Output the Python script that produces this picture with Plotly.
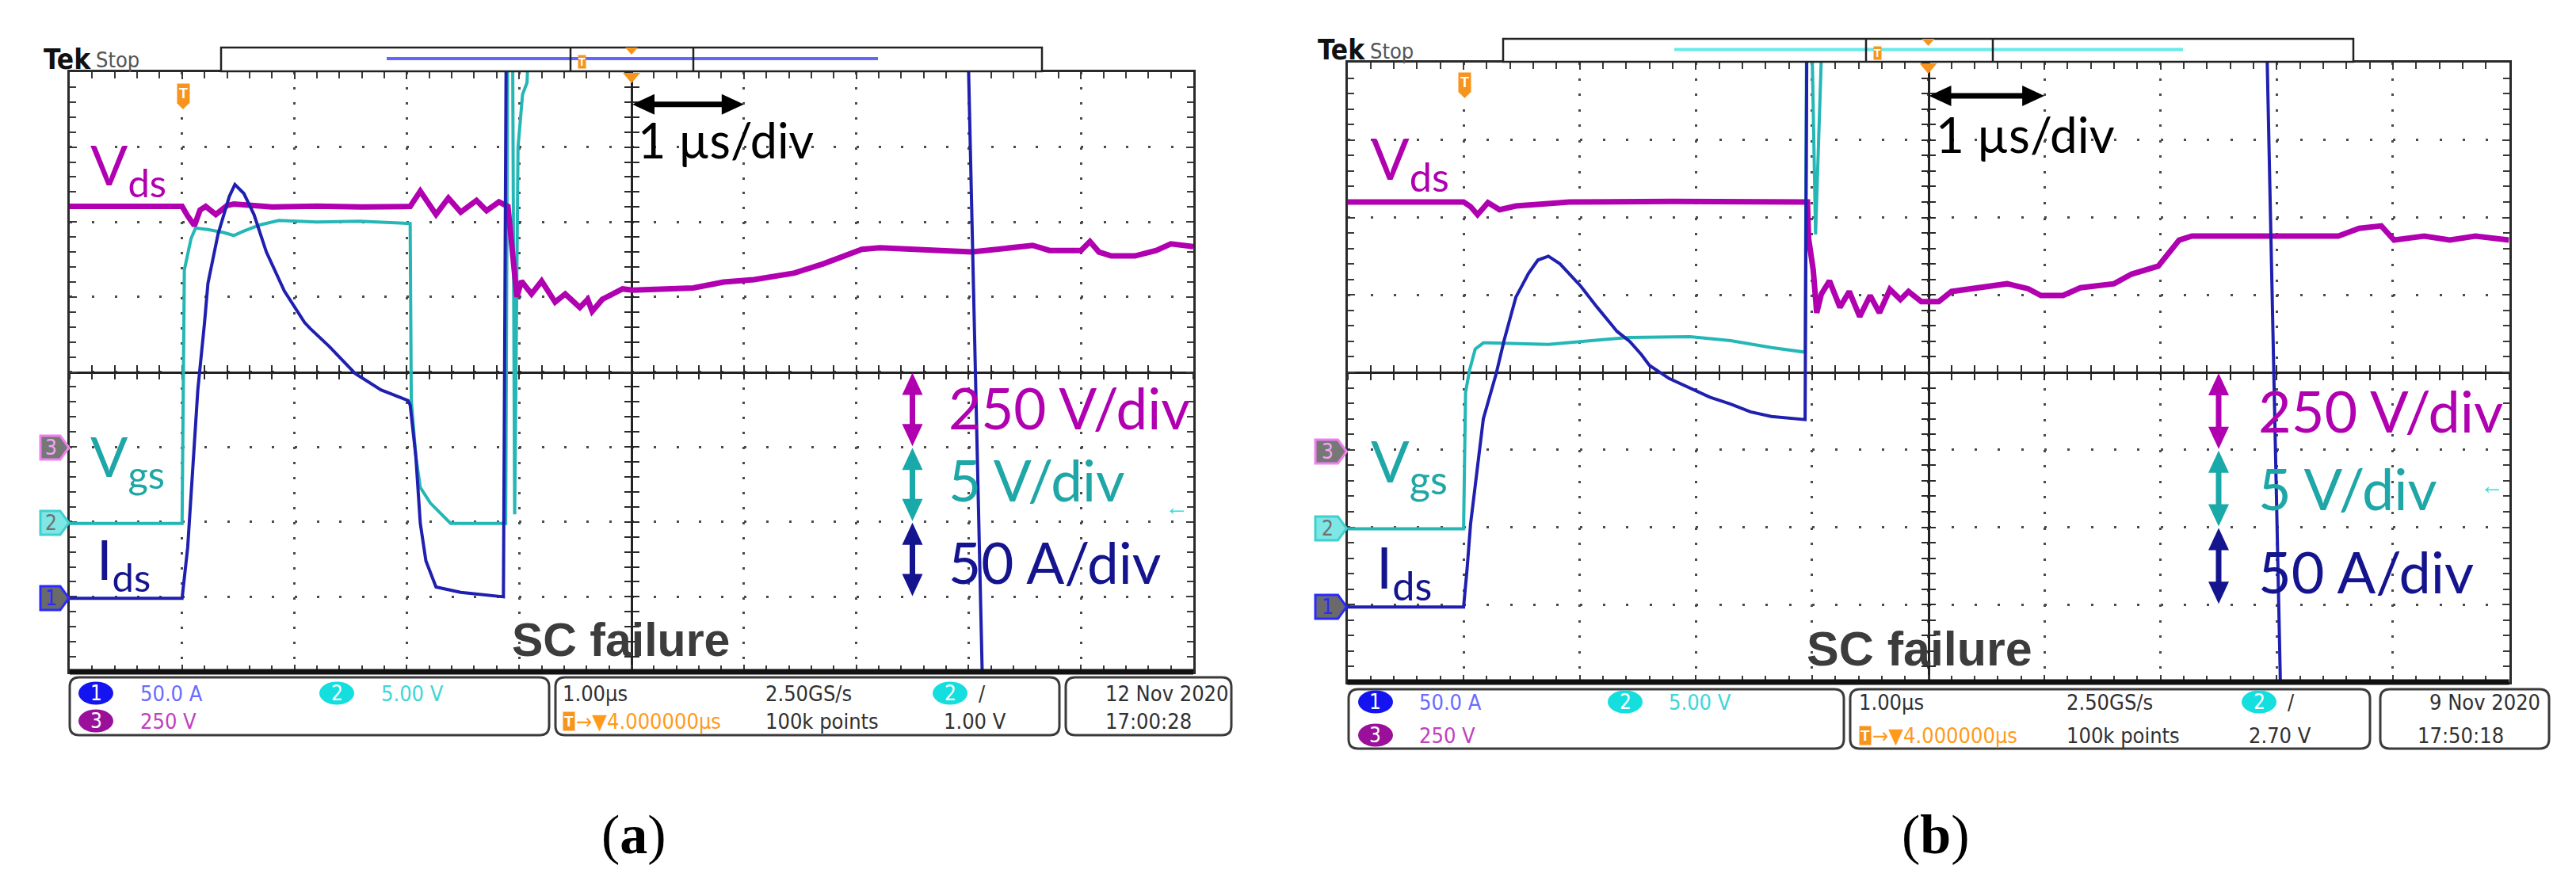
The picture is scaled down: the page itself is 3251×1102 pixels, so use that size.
import plotly.graph_objects as go

W, H = 3251, 1102

# ------------------------------------------------------------------
# Values
# time in µs relative to the trigger (trigger sits 1 div from the left edge)
# ------------------------------------------------------------------
T_RANGE = [-1, 9]
VDS_DIV, VGS_DIV, IDS_DIV = 250, 5, 50          # V/div, V/div, A/div
VDS_REF, VGS_REF, IDS_REF = -1, -2, -3           # ground markers (div below centre)

# ---- (a) 12 Nov 2020 ----
a_vds_t = [-1.0, -0.5, 0.0, 0.05, 0.11, 0.16, 0.21, 0.30, 0.40, 0.46, 0.80, 1.20, 1.60, 2.03,
           2.12, 2.26, 2.37, 2.48, 2.62, 2.71, 2.82, 2.90, 2.93, 2.98, 3.02, 3.11, 3.20, 3.32,
           3.41, 3.54, 3.61, 3.65, 3.74, 3.92, 4.01, 4.28, 4.55, 4.82, 5.09, 5.45, 5.71, 6.05,
           6.21, 6.75, 7.03, 7.57, 7.72, 8.00, 8.08, 8.16, 8.27, 8.48, 8.67, 8.80, 9.00]
a_vds_v = [802, 800, 802, 770, 738, 790, 802, 775, 805, 810, 800, 803, 800, 802,
           853, 775, 830, 783, 822, 788, 817, 802, 677, 500, 553, 510, 553, 483,
           510, 465, 492, 452, 492, 527, 523, 527, 530, 550, 558, 580, 611, 659,
           664, 655, 650, 672, 655, 655, 685, 650, 637, 637, 655, 677, 668]

a_vgs_t = [-1.0, 0.0, 0.02, 0.08, 0.12, 0.23, 0.37, 0.46, 0.55, 0.69, 0.86, 1.20, 1.58, 2.01,
           2.03, 2.04, 2.08, 2.12, 2.21, 2.35, 2.39, 2.88, 2.90, 2.94, 2.96, 2.99, 3.03, 3.07,
           3.10, 9.0]
a_vgs_v = [-0.1, -0.1, 16.8, 18.9, 19.6, 19.5, 19.3, 19.1, 19.4, 19.8, 20.1, 20.0, 20.05, 19.9,
           19.9, 8.1, 4.4, 2.3, 1.25, 0.2, -0.1, -0.1, 35, 35, 0.5, 25, 28.5, 29.3,
           35, 35]

a_ids_t = [-1.0, 0.0, 0.05, 0.10, 0.14, 0.20, 0.23, 0.32, 0.42, 0.47, 0.55, 0.64, 0.75, 0.91,
           1.09, 1.14, 1.31, 1.54, 1.77, 2.01, 2.03, 2.08, 2.12, 2.17, 2.26, 2.48, 2.86, 2.89,
           6.97, 7.13, 9.0]
a_ids_v = [-1, -1, 33, 94, 138, 183, 209, 242, 267, 275, 269, 255, 230, 204,
           183, 179, 167, 149, 138, 131, 128, 94, 49, 24, 6.5, 3, 0, 450,
           450, -80, -80]

# ---- (b) 9 Nov 2020 ----
b_vds_t = [-1.0, 0.0, 0.06, 0.12, 0.21, 0.31, 0.45, 0.59, 0.91, 1.80, 2.96, 2.97, 3.01, 3.04,
           3.08, 3.15, 3.24, 3.32, 3.41, 3.50, 3.58, 3.67, 3.76, 3.83, 3.94, 4.09, 4.20, 4.68,
           4.86, 4.97, 5.16, 5.31, 5.60, 5.75, 5.98, 6.16, 6.27, 6.97, 7.53, 7.71, 7.90, 8.01,
           8.27, 8.49, 8.71, 9.0]
b_vds_v = [800, 800, 785, 759, 798, 775, 787, 792, 800, 802, 800, 682, 580, 442,
           503, 545, 460, 511, 430, 498, 442, 518, 485, 511, 478, 478, 511, 536,
           520, 498, 498, 523, 536, 567, 593, 677, 690, 690, 690, 715, 723, 677,
           690, 677, 690, 677]

b_vgs_t = [-1.0, 0.0, 0.017, 0.05, 0.10, 0.17, 0.21, 0.73, 1.42, 1.95, 2.30, 2.65, 2.94, 2.955,
           2.99, 3.03, 3.10, 9.0]
b_vgs_v = [-0.1, -0.1, 8.7, 10.1, 11.5, 11.9, 11.9, 11.8, 12.25, 12.3, 12.05, 11.6, 11.3, 35,
           35, 18.9, 35, 35]

b_ids_t = [-1.0, 0.0, 0.03, 0.06, 0.17, 0.28, 0.35, 0.45, 0.56, 0.64, 0.73, 0.83, 1.01, 1.15,
           1.32, 1.43, 1.53, 1.60, 1.77, 1.95, 2.12, 2.30, 2.47, 2.65, 2.94, 2.96, 6.89, 7.04,
           9.0]
b_ids_v = [-1.5, -1.5, 23, 52, 120, 149, 171, 198.5, 214, 222.5, 225, 220, 205.5, 192,
           176.5, 170, 161.5, 154.5, 146, 140, 134, 129.5, 124.5, 121.5, 119.5, 450, 450, -80,
           -80]

# status-bar texts
a_status = dict(ch1='50.0 A', ch2='5.00 V', ch3='250 V', tb='1.00µs', pos='→▼4.000000µs',
                rate='2.50GS/s', rec='100k points', trig='1.00 V', date='12 Nov 2020', time='17:00:28')
b_status = dict(ch1='50.0 A', ch2='5.00 V', ch3='250 V', tb='1.00µs', pos='→▼4.000000µs',
                rate='2.50GS/s', rec='100k points', trig='2.70 V', date='9 Nov 2020', time='17:50:18')
# trigger levels on channel 2 (V)
a_trig_level, b_trig_level = 1.00, 2.70

# ------------------------------------------------------------------
C_VDS, C_VGS, C_IDS = '#b000b0', '#25b6b6', '#1f1fb0'
T_VDS, T_VGS, T_IDS = '#b000b0', '#1fa6a6', '#14148e'
ORANGE = '#f7941d'
LATO = 'Lato, "Open Sans", sans-serif'
NARROW = '"Liberation Sans Narrow", "DejaVu Sans Condensed", sans-serif'
ARIAL = '"Liberation Sans", Arial, sans-serif'
SERIF = '"Liberation Serif", "DejaVu Serif", serif'


def X(p):
    return p / W


def Y(p):
    return 1 - p / H


def rng(div, ref):
    return [(-4 - ref) * div, (4 - ref) * div]


def axkey(a):
    return ('xaxis' if a[0] == 'x' else 'yaxis') + a[1:]


layout = {}
shapes = []
annotations = []
fig = go.Figure()


def ann(x, y, text, size, color, family=LATO, xanchor='left', yanchor='top', **kw):
    d = dict(x=X(x), y=Y(y), xref='paper', yref='paper', text=text, showarrow=False,
             font=dict(size=size, color=color, family=family), xanchor=xanchor, yanchor=yanchor)
    d.update(kw)
    annotations.append(d)


def rrect(x0, y0, x1, y1, r, color='#3a3a3a', width=3, fill='white'):
    p = (f'M{X(x0 + r)},{Y(y0)} L{X(x1 - r)},{Y(y0)} Q{X(x1)},{Y(y0)} {X(x1)},{Y(y0 + r)} '
         f'L{X(x1)},{Y(y1 - r)} Q{X(x1)},{Y(y1)} {X(x1 - r)},{Y(y1)} L{X(x0 + r)},{Y(y1)} '
         f'Q{X(x0)},{Y(y1)} {X(x0)},{Y(y1 - r)} L{X(x0)},{Y(y0 + r)} Q{X(x0)},{Y(y0)} {X(x0 + r)},{Y(y0)} Z')
    shapes.append(dict(type='path', xref='paper', yref='paper', path=p,
                       line=dict(color=color, width=width), fillcolor=fill))


def poly(pts, fill, line=None, width=0):
    p = 'M' + ' L'.join(f'{X(a)},{Y(b)}' for a, b in pts) + ' Z'
    shapes.append(dict(type='path', xref='paper', yref='paper', path=p, fillcolor=fill,
                       line=dict(color=line or fill, width=width)))


def line(x0, y0, x1, y1, color, width):
    shapes.append(dict(type='line', xref='paper', yref='paper', x0=X(x0), y0=Y(y0), x1=X(x1), y1=Y(y1),
                       line=dict(color=color, width=width)))


def ellipse(cx, cy, w, h, color):
    shapes.append(dict(type='circle', xref='paper', yref='paper', x0=X(cx - w / 2), x1=X(cx + w / 2),
                       y0=Y(cy + h / 2), y1=Y(cy - h / 2), fillcolor=color, line=dict(color=color, width=0)))


def vdarrow(x, ya, yb, color, hw=13, hl=28, w=7):
    line(x, ya + hl - 2, x, yb - hl + 2, color, w)
    poly([(x - hw, ya + hl), (x + hw, ya + hl), (x, ya)], color)
    poly([(x - hw, yb - hl), (x + hw, yb - hl), (x, yb)], color)


def hdarrow(xa, xb, y, color, hw=13, hl=28, w=7):
    line(xa + hl - 2, y, xb - hl + 2, y, color, w)
    poly([(xa + hl, y - hw), (xa + hl, y + hw), (xa, y)], color)
    poly([(xb - hl, y - hw), (xb - hl, y + hw), (xb, y)], color)


def panel(geo, ids, data, lab):
    x0, y0, x1, y1 = geo
    xb, yb, xv, yv, xi, yi = ids
    divw = (x1 - x0) / 10.0
    divh = (y1 - y0) / 8.0
    hsp = divw / 5.0
    vsp = divh / 5.0
    cxp, cyp = (x0 + x1) / 2, (y0 + y1) / 2

    def px_t(t):
        return x0 + (t - T_RANGE[0]) * divw

    def px_d(d):
        return cyp - d * divh

    common = dict(showticklabels=False, showline=True, linecolor='#2a2a2a', linewidth=3,
                  mirror='allticks', ticks='inside', ticklen=9, tickwidth=2, tickcolor='#3a3a3a',
                  showgrid=True, gridcolor='#4a4a4a', gridwidth=3, zeroline=False,
                  fixedrange=True, layer='below traces')
    layout[axkey(xb)] = dict(common, domain=[X(x0), X(x1)], range=T_RANGE, anchor=yb, tick0=0, dtick=1,
                             minor=dict(tick0=0, dtick=0.2, ticks='inside', ticklen=8, tickwidth=1.5,
                                        tickcolor='#3a3a3a'),
                             griddash=f'3px,{vsp - 3:.2f}px')
    layout[axkey(yb)] = dict(common, domain=[Y(y1), Y(y0)], range=rng(VGS_DIV, VGS_REF), anchor=xb,
                             tick0=0, dtick=VGS_DIV,
                             minor=dict(tick0=0, dtick=VGS_DIV / 5, ticks='inside', ticklen=8,
                                        tickwidth=1.5, tickcolor='#3a3a3a'),
                             griddash=f'3px,{hsp - 3:.2f}px')
    cen = dict(showticklabels=False, showline=True, linecolor='#222222', linewidth=2.5, ticklen=8,
               tickwidth=2, tickcolor='#2a2a2a', showgrid=False, zeroline=False, fixedrange=True,
               anchor='free', layer='below traces')
    for xid, yid, side, yr, yd in ((xv, yv, 'outside', rng(VDS_DIV, VDS_REF), VDS_DIV),
                                   (xi, yi, 'inside', rng(IDS_DIV, IDS_REF), IDS_DIV)):
        layout[axkey(xid)] = dict(cen, overlaying=xb, range=T_RANGE, position=Y(cyp), side='bottom',
                                  ticks=side, tick0=0, dtick=1,
                                  minor=dict(tick0=0, dtick=0.2, ticks=side, ticklen=8, tickwidth=1.5,
                                             tickcolor='#2a2a2a'))
        layout[axkey(yid)] = dict(cen, overlaying=yb, range=yr, position=X(cxp), side='left',
                                  ticks=side, tick0=0, dtick=yd,
                                  minor=dict(tick0=0, dtick=yd / 5, ticks=side, ticklen=8, tickwidth=1.5,
                                             tickcolor='#2a2a2a'))

    (vgs_t, vgs_v), (vds_t, vds_v), (ids_t, ids_v) = data
    fig.add_trace(go.Scatter(x=vgs_t, y=vgs_v, xaxis=xb, yaxis=yb, mode='lines',
                             line=dict(color=C_VGS, width=4), hoverinfo='skip'))
    fig.add_trace(go.Scatter(x=vds_t, y=vds_v, xaxis=xv, yaxis=yv, mode='lines',
                             line=dict(color=C_VDS, width=7), hoverinfo='skip'))
    fig.add_trace(go.Scatter(x=ids_t, y=ids_v, xaxis=xi, yaxis=yi, mode='lines',
                             line=dict(color=C_IDS, width=4), hoverinfo='skip'))

    # thick bottom edge of graticule
    line(x0, y1, x1, y1, '#111111', 7)

    # per-division double arrows
    ax_t = 6.5
    for top, col in ((0, T_VDS), (-1, '#1aa9a9'), (-2, T_IDS)):
        vdarrow(px_t(ax_t), px_d(top) + 1, px_d(top - 1) - 1, col)
    # 1 µs/div arrow
    hdarrow(px_t(4.0) + 1, px_t(5.0), px_d(3.57), 'black')
    # trigger level marker (right edge, channel 2 axis)
    annotations.append(dict(xref=xb + ' domain', yref=yb, x=0.997, y=lab['trig_level'], text='<b>←</b>',
                            showarrow=False, xanchor='right', yanchor='middle',
                            font=dict(size=30, color='#33dede', family=ARIAL)))

    # labels
    ls, rs = lab['lsize'], lab['rsize']
    ann(*lab['vds'], 'V<sub>ds</sub>', ls, T_VDS)
    ann(*lab['vgs'], 'V<sub>gs</sub>', ls, T_VGS)
    ann(*lab['ids'], 'I<sub>ds</sub>', ls, T_IDS)
    ann(*lab['r1'], '250 V/div', rs, T_VDS)
    ann(*lab['r2'], '5 V/div', rs, T_VGS)
    ann(*lab['r3'], '50 A/div', rs, T_IDS)
    ann(*lab['us'], '1 µs/div', lab['ussize'], 'black')
    ann(*lab['sc'], '<b>SC failure</b>', lab['scsize'], '#3c3c3c', family=ARIAL)
    ann(lab['cap'], 1045, lab['captext'], 70, 'black', family=SERIF, xanchor='center', yanchor='middle')

    # Tek Stop
    tx, ty = lab['tek']
    ann(tx, ty, '<b>Tek</b>', 35, '#111111', family=NARROW, yanchor='middle')
    ann(tx + 66, ty + 1, 'Stop', 27, '#555555', family=NARROW, yanchor='middle')

    # record overview bar
    bx0, by0, bx1, by1 = lab['bar']
    shapes.append(dict(type='rect', xref='paper', yref='paper', x0=X(bx0), x1=X(bx1), y0=Y(by1), y1=Y(by0),
                       line=dict(color='#222222', width=2.5), fillcolor='white'))
    lx0, lx1, lcol = lab['barline']
    ymid = (by0 + by1) / 2 - 1
    line(lx0, ymid, lx1, ymid, lcol, 4)
    for bxx in lab['bracket']:
        line(bxx, by0 + 1, bxx, by1 - 1, '#222222', 2.5)
    ann(lab['bracket'][0] + 14, ymid + 4, '<b>T</b>', 14, 'white', family=ARIAL, xanchor='center',
        yanchor='middle', bgcolor=ORANGE, borderpad=0)
    poly([(cxp - 8, by0), (cxp + 8, by0), (cxp, by0 + 9)], ORANGE)
    poly([(cxp - 11, y0 + 1), (cxp + 11, y0 + 1), (cxp, y0 + 14)], ORANGE)

    # trigger-position marker inside graticule
    tpx, tpy = lab['tmark']
    ann(tpx, tpy, '<b>T</b>', 18, 'white', family=ARIAL, xanchor='center', yanchor='middle',
        bgcolor=ORANGE, borderpad=2)
    poly([(tpx - 8, tpy + 12), (tpx + 8, tpy + 12), (tpx, tpy + 20)], ORANGE)

    # channel ground markers
    mx0 = lab['mx0']
    for yc, num, fill, border, tcol in ((lab['m'][0], '3', '#777777', '#f080f0', '#f2a6f2'),
                                        (lab['m'][1], '2', '#7fe6e6', '#40d0d0', '#707070'),
                                        (lab['m'][2], '1', '#6a6a6a', '#2a2aff', '#2a2aff')):
        poly([(mx0, yc - 15), (x0 - 12, yc - 15), (x0 - 1, yc), (x0 - 12, yc + 15), (mx0, yc + 15)],
             fill, border, 3)
        ann((mx0 + x0 - 10) / 2, yc, num, 26, tcol, family=NARROW, xanchor='center', yanchor='middle')

    # status bar
    st = lab['status']
    r1, r2 = lab['rows']
    for bx in lab['boxes']:
        rrect(bx[0], bx[1], bx[2], bx[3], 12)
    c = lab['cols']
    ellipse(c['c1'], r1, 44, 29, '#1414f0')
    ann(c['c1'], r1, '1', 26, 'white', family=NARROW, xanchor='center', yanchor='middle')
    ellipse(c['c2'], r1, 44, 29, '#14dede')
    ann(c['c2'], r1, '2', 26, 'white', family=NARROW, xanchor='center', yanchor='middle')
    ellipse(c['c1'], r2, 44, 29, '#9a109a')
    ann(c['c1'], r2, '3', 26, 'white', family=NARROW, xanchor='center', yanchor='middle')
    ellipse(c['ct'], r1, 44, 29, '#14dede')
    ann(c['ct'], r1, '2', 26, 'white', family=NARROW, xanchor='center', yanchor='middle')
    fs = 27
    ann(c['t1'], r1, st['ch1'], fs, '#6a6aff', family=NARROW, yanchor='middle')
    ann(c['t2'], r1, st['ch2'], fs, '#3ed6d6', family=NARROW, yanchor='middle')
    ann(c['t1'], r2, st['ch3'], fs, '#c040c0', family=NARROW, yanchor='middle')
    ann(c['tb'], r1, st['tb'], fs, '#303030', family=NARROW, yanchor='middle')
    ann(c['tb'] + 2, r2, '<b>T</b>', 19, 'white', family=ARIAL, yanchor='middle', bgcolor=ORANGE, borderpad=1)
    ann(c['tb'] + 17, r2, st['pos'], fs, '#ff9a1a', family=NARROW, yanchor='middle')
    ann(c['rate'], r1, st['rate'], fs, '#303030', family=NARROW, yanchor='middle')
    ann(c['rate'], r2, st['rec'], fs, '#303030', family=NARROW, yanchor='middle')
    ann(c['ct'] + 34, r1, '/', fs, '#303030', family=NARROW, yanchor='middle')
    ann(c['tl'], r2, st['trig'], fs, '#303030', family=NARROW, yanchor='middle')
    ann(c['date'], r1, st['date'], fs, '#303030', family=NARROW, yanchor='middle')
    ann(c['time'], r2, st['time'], fs, '#303030', family=NARROW, yanchor='middle')


panel((80, 83, 1498, 840), ('x', 'y', 'x3', 'y2', 'x4', 'y3'),
      ((a_vgs_t, a_vgs_v), (a_vds_t, a_vds_v), (a_ids_t, a_ids_v)),
      dict(trig_level=a_trig_level, lsize=70, rsize=71, ussize=61, scsize=59,
           vds=(104, 155), vgs=(104, 523), ids=(112, 653),
           r1=(1187, 462), r2=(1187, 553), r3=(1187, 657), us=(795, 130), sc=(636, 765),
           cap=792, captext='(<b>a</b>)', tek=(45, 67),
           bar=(271, 52, 1307, 82), barline=(480, 1100, '#6464ff'), bracket=(712, 867),
           tmark=(223, 110), mx0=43, m=(557, 652, 747),
           status=a_status, rows=(867, 902),
           boxes=((80, 847, 685, 920), (693, 847, 1329, 920), (1337, 847, 1546, 920)),
           cols=dict(c1=113, t1=167, c2=417, t2=471, tb=700, rate=956, ct=1191, tl=1181,
                     date=1385, time=1385)))

panel((1692.5, 71, 3158.5, 853), ('x2', 'y4', 'x5', 'y5', 'x6', 'y6'),
      ((b_vgs_t, b_vgs_v), (b_vds_t, b_vds_v), (b_ids_t, b_ids_v)),
      dict(trig_level=b_trig_level, lsize=72, rsize=72, ussize=62, scsize=61,
           vds=(1720, 146), vgs=(1720, 528), ids=(1727, 662),
           r1=(2840, 465), r2=(2840, 563), r3=(2840, 668), us=(2433, 122), sc=(2270, 775),
           cap=2435, captext='(<b>b</b>)', tek=(1653, 55),
           bar=(1889, 41, 2962, 70), barline=(2105, 2747, '#66eaea'), bracket=(2347, 2507),
           tmark=(1840.5, 96), mx0=1652, m=(562, 659, 758),
           status=b_status, rows=(878, 920),
           boxes=((1694, 862, 2319, 937), (2327, 862, 2983, 937), (2996, 862, 3209, 937)),
           cols=dict(c1=1728, t1=1781, c2=2043, t2=2096, tb=2336, rate=2598, ct=2843, tl=2828,
                     date=3056, time=3041)))

fig.update_layout(**layout)
fig.update_layout(width=W, height=H, margin=dict(l=0, r=0, t=0, b=0), showlegend=False,
                  paper_bgcolor='white', plot_bgcolor='white', shapes=shapes, annotations=annotations,
                  hovermode=False)
fig.write_html('out.html')
